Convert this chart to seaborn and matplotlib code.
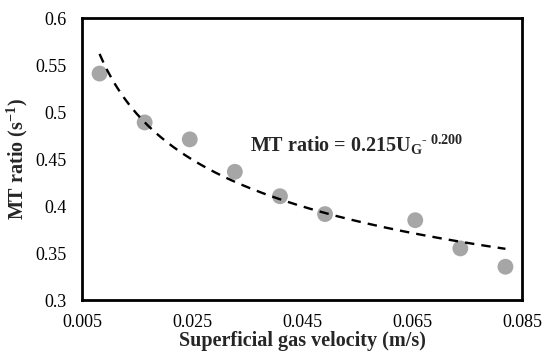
import numpy as np
import pandas as pd
import seaborn as sns
import matplotlib.pyplot as plt
from matplotlib.ticker import FuncFormatter

# measured points
velocity = [0.0082, 0.0164, 0.0246, 0.0328, 0.0410, 0.0492, 0.0656, 0.0738, 0.0820]
mt_ratio = [0.541, 0.489, 0.471, 0.4365, 0.4105, 0.3915, 0.385, 0.355, 0.3355]

# power-law trendline shown on the chart
fit_a = 0.215
fit_b = -0.200

x_ticks = [0.005, 0.025, 0.045, 0.065, 0.085]
y_ticks = [0.3, 0.35, 0.4, 0.45, 0.5, 0.55, 0.6]

sns.set_style('white')
plt.rcParams['font.family'] = ['Liberation Serif', 'DejaVu Serif']
plt.rcParams['mathtext.fontset'] = 'custom'
plt.rcParams['mathtext.rm'] = 'Liberation Serif:bold'
plt.rcParams['mathtext.it'] = 'Liberation Serif:bold'
plt.rcParams['mathtext.bf'] = 'Liberation Serif:bold'

df = pd.DataFrame({'ug': velocity, 'mt': mt_ratio})
fit_x = np.linspace(min(velocity), max(velocity), 200)
fit_df = pd.DataFrame({'ug': fit_x, 'mt': fit_a * fit_x ** fit_b})

fig = plt.figure(figsize=(5.5, 3.62), dpi=100)
ax = fig.add_axes([0.149, 0.171, 0.8, 0.779])

sns.scatterplot(data=df, x='ug', y='mt', ax=ax, color='#a6a6a6', s=130,
                edgecolor='none', zorder=2)
sns.lineplot(data=fit_df, x='ug', y='mt', ax=ax, color='black', lw=1.7,
             linestyle=(0, (4, 3)), zorder=3)

ax.set_xlim(0.005, 0.085)
ax.set_ylim(0.3, 0.6)
ax.set_xticks(x_ticks)
ax.set_yticks(y_ticks)
ax.xaxis.set_major_formatter(FuncFormatter(lambda v, p: f'{v:g}'))
ax.yaxis.set_major_formatter(FuncFormatter(lambda v, p: f'{v:g}'))
ax.tick_params(direction='in', length=4, width=1.5, labelsize=13, colors='black')
ax.tick_params(axis='y', pad=11)
ax.tick_params(axis='x', pad=10)

for s in ax.spines.values():
    s.set_linewidth(2)
    s.set_color('black')

ax.set_xlabel('Superficial gas velocity (m/s)', fontsize=14.5, fontweight='bold', labelpad=0)
ax.set_ylabel('MT ratio (s$^{-1}$)', fontsize=14.5, fontweight='bold', labelpad=4)

ax.text(0.0355, 0.465, r'MT ratio = 0.215U$_G$$^{\text{- 0.200}}$', fontsize=14.5,
        fontweight='bold', va='center')

fig.savefig('out.png', dpi=100)
